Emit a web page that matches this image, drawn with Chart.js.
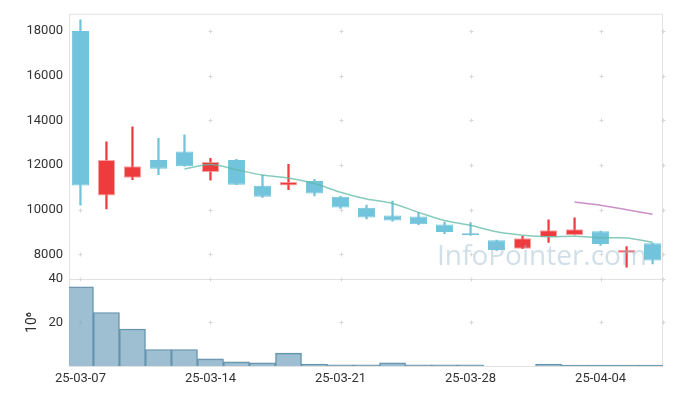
<!DOCTYPE html>
<html>
<head>
<meta charset="utf-8">
<script src="https://cdn.jsdelivr.net/npm/chart.js@4/dist/chart.umd.min.js"></script>
<style>
  html, body { margin: 0; padding: 0; background: #fff; }
  #wrap { width: 673px; height: 396px; }
</style>
</head>
<body>
<div id="wrap"><canvas id="chart" width="673" height="396"></canvas></div>
<script>
// trading days
var dates = ['25-03-07', '25-03-10', '25-03-11', '25-03-12', '25-03-13', '25-03-14',
             '25-03-17', '25-03-18', '25-03-19', '25-03-20', '25-03-21',
             '25-03-24', '25-03-25', '25-03-26', '25-03-27', '25-03-28',
             '25-03-31', '25-04-01', '25-04-02', '25-04-03', '25-04-04',
             '25-04-07', '25-04-08'];
var opens  = [18000, 10640, 11430, 12220, 12610, 11690, 12220, 11070, 11080, 11290, 10580,
              10090, 9740, 9700, 9340, 8940, 8630, 8250, 8780, 8870, 9030, 8070, 8500];
var highs  = [18500, 13040, 13710, 13190, 13350, 12300, 12260, 11540, 12030, 11360, 10600,
              10210, 10390, 9870, 9440, 9420, 8640, 8810, 9550, 9640, 9040, 8350, 8510];
var lows   = [10200, 10040, 11340, 11570, 11950, 11320, 11120, 10550, 10900, 10620, 10060,
              9590, 9490, 9330, 8930, 8850, 8160, 8250, 8540, 8870, 8400, 7430, 7570];
var closes = [11080, 12220, 11950, 11830, 11950, 12130, 11120, 10580, 11240, 10730, 10100,
              9650, 9520, 9350, 9000, 8870, 8200, 8720, 9080, 9120, 8460, 8200, 7720];
var ma5  = [null, null, null, null, 11820, 12020, 11790, 11550, 11420, 11170, 10780,
            10480, 10280, 9880, 9520, 9300, 9010, 8860, 8790, 8810, 8740, 8730, 8540];
var ma20 = [null, null, null, null, null, null, null, null, null, null, null,
            null, null, null, null, null, null, null, null, 10340, 10200, 10000, 9800];
var volumes = [36400000, 24600000, 17000000, 7600000, 7600000, 3300000, 1900000, 1400000,
               5900000, 900000, 500000, 500000, 1400000, 500000, 500000, 500000,
               0, 0, 900000, 400000, 400000, 400000, 400000];
var xTicks = [0, 5, 10, 15, 20];
var priceTicks = [8000, 10000, 12000, 14000, 16000, 18000];
var volTicks = [20000000, 40000000];

var UP = '#ee3c3e', DOWN = '#72c3dc';
var candleColors = closes.map(function (c, i) { return c >= opens[i] ? UP : DOWN; });
var candleBorders = closes.map(function (c, i) { return c >= opens[i] ? 'rgba(245,140,140,0.8)' : DOWN; });

function pts(arr) { return arr.map(function (v, i) { return { x: i, y: v }; }); }

var gridPlugin = {
  id: 'gridMarks',
  beforeDatasetsDraw: function (chart) {
    var c = chart.ctx, a = chart.chartArea, sx = chart.scales.x;
    c.save();
    c.strokeStyle = '#e3e3e3';
    c.lineWidth = 1;
    [chart.scales.y, chart.scales.yVol].forEach(function (s) {
      c.strokeRect(a.left + 0.5, s.top + 0.5, a.right - a.left - 1, s.bottom - s.top);
    });
    c.strokeStyle = '#d8d8d8';
    var xs = xTicks.map(function (t) { return sx.getPixelForValue(t); });
    xs.push(a.right);
    function cross(x, y) {
      x = Math.round(x) + 0.5; y = Math.round(y) + 0.5;
      c.beginPath();
      c.moveTo(x - 2, y); c.lineTo(x + 2, y);
      c.moveTo(x, y - 2); c.lineTo(x, y + 2);
      c.stroke();
    }
    xs.forEach(function (x) {
      priceTicks.forEach(function (v) { cross(x, chart.scales.y.getPixelForValue(v)); });
      volTicks.forEach(function (v) { cross(x, chart.scales.yVol.getPixelForValue(v)); });
    });
    c.restore();
  },
  afterDatasetsDraw: function (chart) {
    var c = chart.ctx, a = chart.chartArea, s = chart.scales.y;
    c.save();
    c.font = '28px "Open Sans"';
    c.fillStyle = 'rgba(150,185,205,0.45)';
    c.textBaseline = 'alphabetic';
    c.textAlign = 'left';
    c.fillText('InfoPointer.com', a.left + 368, s.bottom - 14);
    c.restore();
  }
};

var tickFont = { family: '"Liberation Sans Narrow", Roboto, sans-serif', size: 13 };

var ctx = document.getElementById('chart');
var chart = new Chart(ctx, {
  type: 'bar',
  data: {
    datasets: [
      {
        type: 'line', label: 'MA5', data: pts(ma5), yAxisID: 'y',
        borderColor: 'rgba(95,185,165,0.75)', borderWidth: 1.5,
        pointRadius: 0, tension: 0.3, order: 0
      },
      {
        type: 'line', label: 'MA20', data: pts(ma20), yAxisID: 'y',
        borderColor: 'rgba(195,125,190,0.85)', borderWidth: 1.5,
        pointRadius: 0, tension: 0.3, order: 0
      },
      {
        label: 'body', yAxisID: 'y',
        data: opens.map(function (o, i) { return { x: i, y: [o, closes[i]] }; }),
        backgroundColor: candleColors, borderColor: candleBorders, borderWidth: 1,
        borderSkipped: false, barPercentage: 0.66, categoryPercentage: 1,
        grouped: false, order: 1
      },
      {
        label: 'wick', yAxisID: 'y',
        data: lows.map(function (l, i) { return { x: i, y: [l, highs[i]] }; }),
        backgroundColor: candleColors, barThickness: 1.6,
        grouped: false, order: 2
      },
      {
        label: 'volume', yAxisID: 'yVol', data: pts(volumes),
        backgroundColor: 'rgba(125,170,194,0.75)', borderColor: 'rgba(80,130,158,0.9)',
        borderWidth: 1, borderSkipped: 'bottom',
        barPercentage: 1, categoryPercentage: 1, grouped: false, order: 3
      }
    ]
  },
  options: {
    responsive: false,
    animation: false,
    layout: { padding: { top: 10, right: 10, left: 0, bottom: 0 } },
    plugins: { legend: { display: false }, tooltip: { enabled: false } },
    scales: {
      x: {
        type: 'linear', min: -0.44, max: 22.4, offset: false,
        grid: { display: false, drawTicks: false }, border: { display: false },
        afterBuildTicks: function (s) { s.ticks = xTicks.map(function (v) { return { value: v }; }); },
        afterFit: function (s) { s.height = 30; },
        ticks: {
          color: '#333', font: tickFont, padding: 5, maxRotation: 0,
          callback: function (v) { return dates[v]; }
        }
      },
      yVol: {
        position: 'left', stack: 'panes', stackWeight: 88,
        min: 0, max: 40000000,
        grid: { display: false, drawTicks: false }, border: { display: false },
        afterBuildTicks: function (s) { s.ticks = volTicks.map(function (v) { return { value: v }; }); },
        afterFit: function (s) { s.width = 69; },
        title: { display: true, text: '10⁶', color: '#333', font: { family: 'Roboto', size: 14 }, padding: { top: 24, bottom: 0 } },
        ticks: { color: '#333', font: tickFont, padding: 6, callback: function (v) { return v / 1000000; } }
      },
      y: {
        position: 'left', stack: 'panes', stackWeight: 268,
        min: 6900, max: 18770,
        grid: { display: false, drawTicks: false }, border: { display: false },
        afterBuildTicks: function (s) { s.ticks = priceTicks.map(function (v) { return { value: v }; }); },
        afterFit: function (s) { s.width = 69; },
        ticks: { color: '#333', font: tickFont, padding: 6, callback: function (v) { return v; } }
      }
    }
  },
  plugins: [gridPlugin]
});
</script>
</body>
</html>
